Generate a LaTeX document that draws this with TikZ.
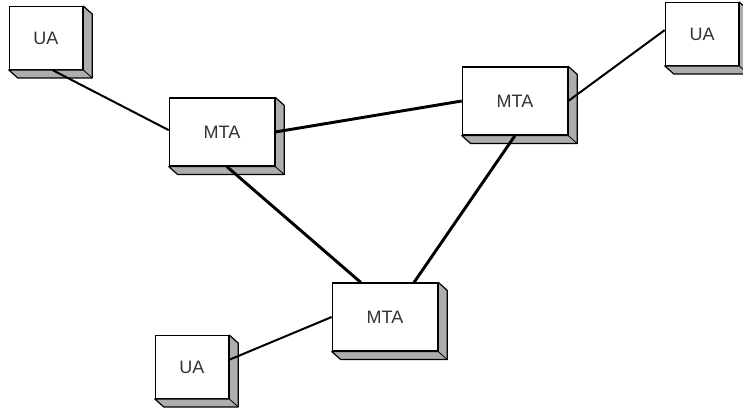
\documentclass[tikz,border=0pt]{standalone}
\usepackage{fontspec}
\setmainfont{Liberation Sans}
\usepackage{tikz}

\tikzset{
	agent/.style={draw, fill=white, line width=0.9pt, inner sep=0pt, font=\fontsize{13.5}{16}\selectfont, text=black!80},
	ua/.style={agent, minimum width=55pt, minimum height=47pt},
	mta/.style={agent, minimum width=79pt, minimum height=51pt},
	side/.style={fill=black!32, line width=0.9pt, line join=round},
	link/.style={line width=1.5pt},
	trunk/.style={line width=2.2pt}
}

\begin{document}
\begin{tikzpicture}[x=0.75pt, y=-0.75pt]
	\useasboundingbox (0,0) rectangle (743,409);
	\node[ua] (ua1) at (46,38) {UA};
	\node[ua] (ua2) at (702,34) {UA};
	\node[ua] (ua3) at (192,367) {UA};
	\node[mta] (mta1) at (222,132) {MTA};
	\node[mta] (mta2) at (515,101) {MTA};
	\node[mta] (mta3) at (385,317) {MTA};
	% shaded depth on the right and bottom of every box
	\foreach \n in {ua1,ua2,ua3,mta1,mta2,mta3}{
		\filldraw[side] (\n.north east) -- ([shift={(9,8)}]\n.north east) -- ([shift={(9,8)}]\n.south east) -- ([shift={(9,8)}]\n.south west) -- (\n.south west) -- (\n.south east) -- cycle;
		\draw[line width=0.6pt] (\n.south east) -- ([shift={(9,8)}]\n.south east);
	}
	\draw[link] (ua1.-79) -- (mta1.178);
	\draw[trunk] (mta1.east) -- (mta2.west);
	\draw[link] (mta2.east) -- (ua2.174);
	\draw[trunk] (mta1.-82) -- (mta3.125);
	\draw[trunk] (mta2.south) -- (mta3.50);
	\draw[link] (mta3.west) -- (ua3.11);
\end{tikzpicture}
\end{document}
